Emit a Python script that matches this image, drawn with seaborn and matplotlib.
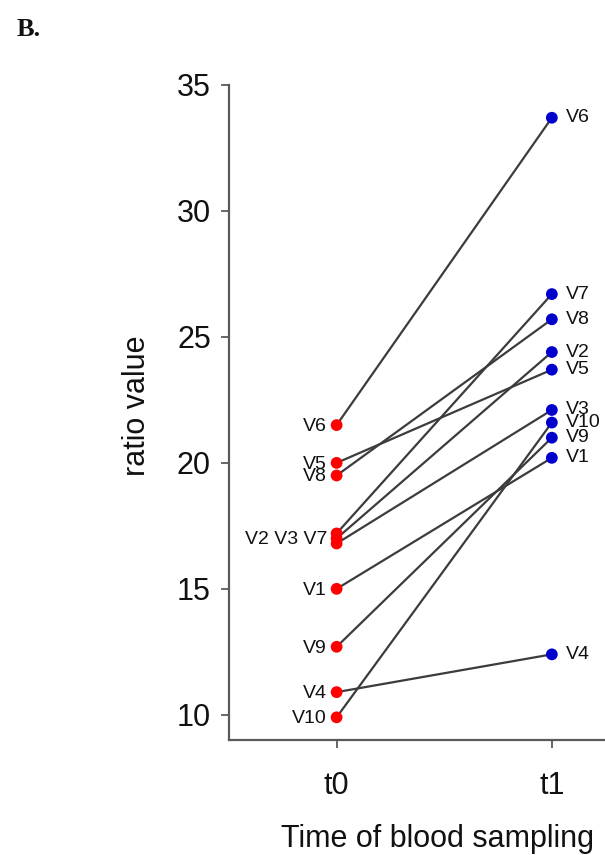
import numpy as np
import pandas as pd
import matplotlib
matplotlib.use('Agg')
import matplotlib.pyplot as plt
import seaborn as sns

# Ratio values per volunteer at the two sampling times
SUBJECTS = ['V1', 'V2', 'V3', 'V4', 'V5', 'V6', 'V7', 'V8', 'V9', 'V10']
T0_VALUES = [15.0, 17.0, 16.8, 10.9, 20.0, 21.5, 17.2, 19.5, 12.7, 9.9]
T1_VALUES = [20.2, 24.4, 22.1, 12.4, 23.7, 33.7, 26.7, 25.7, 21.0, 21.6]
TIME_LABELS = ['t0', 't1']
# Labels at t0: overlapping points share one label
T0_LABEL_GROUPS = [['V6'], ['V5'], ['V8'], ['V2', 'V3', 'V7'], ['V1'], ['V9'], ['V4'], ['V10']]
Y_TICKS = [10, 15, 20, 25, 30, 35]

RED = '#FF0000'
BLUE = '#0000CD'
LINE_COLOR = '#3C3C3C'
AXIS_COLOR = '#5A5A5A'


def build_frame():
    rows = []
    for i, s in enumerate(SUBJECTS):
        rows.append({'subject': s, 'time': 0, 'time_label': TIME_LABELS[0], 'ratio': T0_VALUES[i]})
        rows.append({'subject': s, 'time': 1, 'time_label': TIME_LABELS[1], 'ratio': T1_VALUES[i]})
    return pd.DataFrame(rows)


def main():
    sns.set_style('ticks')
    plt.rcParams['font.family'] = ['Liberation Sans', 'DejaVu Sans']

    df = build_frame()

    fig = plt.figure(figsize=(6.05, 8.55), dpi=100)
    ax = fig.add_axes([229 / 605, 1 - 740 / 855, 1 - 229 / 605, (740 - 85) / 855])

    # connecting lines per subject
    sns.lineplot(data=df, x='time', y='ratio', units='subject', estimator=None,
                 color=LINE_COLOR, linewidth=1.6, ax=ax, zorder=2, legend=False)
    # dots coloured by time point
    sns.scatterplot(data=df, x='time', y='ratio', hue='time_label',
                    palette={TIME_LABELS[0]: RED, TIME_LABELS[1]: BLUE},
                    s=72, linewidth=0, ax=ax, zorder=3, legend=False)

    # labels at t0 (left of the dots)
    t0_lookup = dict(zip(SUBJECTS, T0_VALUES))
    for group in T0_LABEL_GROUPS:
        y = np.mean([t0_lookup[s] for s in group])
        ax.annotate(' '.join(group), xy=(0, y), xytext=(-7, -1), textcoords='offset points',
                    ha='right', va='center', fontsize=14, color='#111111')
    # labels at t1 (right of the dots)
    for s, y in zip(SUBJECTS, T1_VALUES):
        ax.annotate(s, xy=(1, y), xytext=(10, 0), textcoords='offset points',
                    ha='left', va='center', fontsize=14, color='#111111')

    ax.set_xlim(-0.5, 1.247)
    ax.set_ylim(9.0, 35)
    ax.set_xticks([0, 1])
    ax.set_xticklabels(TIME_LABELS)
    ax.set_yticks(Y_TICKS)

    ax.tick_params(axis='both', length=6, width=1.3, color=AXIS_COLOR, labelsize=22, labelcolor='#111111')
    ax.tick_params(axis='x', pad=16)
    ax.tick_params(axis='y', pad=7)
    sns.despine(ax=ax)
    for side in ['left', 'bottom']:
        ax.spines[side].set_color(AXIS_COLOR)
        ax.spines[side].set_linewidth(1.6)

    ax.set_ylabel('ratio value', fontsize=22, color='#111111')
    ax.yaxis.set_label_coords(-0.205, 0.51)
    ax.set_xlabel('Time of blood sampling', fontsize=22, color='#111111')
    ax.xaxis.set_label_coords(0.555, -0.128)

    fig.text(0.027, 0.958, 'B.', fontsize=19, fontweight='bold',
             family=['Liberation Serif', 'DejaVu Serif'], color='#111111')

    fig.savefig('out.png', dpi=100)
    plt.close()


main()
